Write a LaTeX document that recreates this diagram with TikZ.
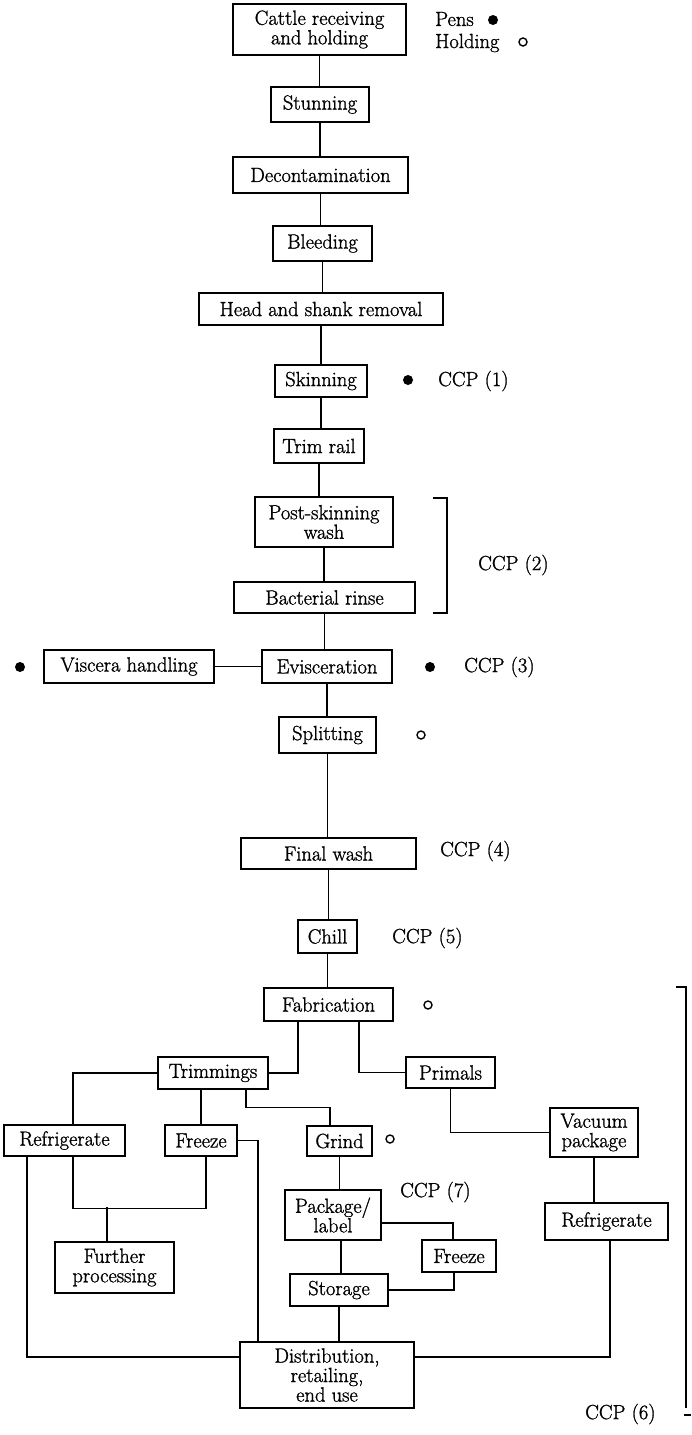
\documentclass[tikz,border=0pt]{standalone}
\usepackage{fontspec}
\newfontfamily\heavyrm{Latin Modern Roman}[FakeBold=1.2]
\newcommand\mainfs{\heavyrm\fontsize{20.5}{19.5}\selectfont}
\tikzset{
  box/.style={draw, line width=1.3pt, inner sep=0pt, align=center, font=\mainfs},
  lbl/.style={inner sep=0pt, anchor=west, font=\mainfs},
  conn/.style={line width=1.2pt},
  dotf/.style={circle, fill=black, draw=none, minimum size=10pt, inner sep=0pt},
  doto/.style={circle, draw, line width=1.4pt, minimum size=8pt, inner sep=0pt},
}
\begin{document}
\begin{tikzpicture}[x=1pt,y=-1pt]
\useasboundingbox[fill=white] (0,0) rectangle (691,1435);
% main chain
\node[box, minimum width=173pt, minimum height=51pt] (cattle) at (319.5,29.5) {Cattle receiving\\and holding};
\node[box, minimum width=98pt, minimum height=35pt] (stun) at (320,104.5) {Stunning};
\node[box, minimum width=175pt, minimum height=36pt] (decon) at (320.5,175) {Decontamination};
\node[box, minimum width=99pt, minimum height=35pt] (bleed) at (322.5,243.5) {Bleeding};
\node[box, minimum width=244pt, minimum height=32pt] (head) at (321,309) {Head and shank removal};
\node[box, minimum width=92pt, minimum height=32pt] (skin) at (321,381) {Skinning};
\node[box, minimum width=90pt, minimum height=34pt] (trim) at (319,446) {Trim rail};
\node[box, minimum width=138pt, minimum height=50pt] (post) at (324,522) {Post-skinning\\wash};
\node[box, minimum width=181pt, minimum height=31pt] (rinse) at (324.5,597.5) {Bacterial rinse};
\node[box, minimum width=170pt, minimum height=33pt] (viscera) at (129,666.5) {Viscera handling};
\node[box, minimum width=130pt, minimum height=33pt] (evis) at (327,666.5) {Evisceration};
\node[box, minimum width=97pt, minimum height=36pt] (split) at (327.5,735) {Splitting};
\node[box, minimum width=175pt, minimum height=31pt] (final) at (328.5,853.5) {Final wash};
\node[box, minimum width=59pt, minimum height=33pt] (chill) at (327.5,936.5) {Chill};
\node[box, minimum width=129pt, minimum height=33pt] (fab) at (328.5,1004.5) {Fabrication};
% lower part
\node[box, minimum width=110pt, minimum height=32pt] (trimm) at (213,1073) {Trimmings};
\node[box, minimum width=89pt, minimum height=31pt] (primals) at (450.5,1072.5) {Primals};
\node[box, minimum width=121pt, minimum height=31pt] (refL) at (64.5,1140.5) {Refrigerate};
\node[box, minimum width=72pt, minimum height=31pt] (freezeL) at (201,1140.5) {Freeze};
\node[box, minimum width=65pt, minimum height=30pt] (grind) at (339.5,1141) {Grind};
\node[box, minimum width=88pt, minimum height=49pt] (vacuum) at (594,1132.5) {Vacuum\\package};
\node[box, minimum width=96pt, minimum height=50pt] (pkg) at (333,1215) {Package/\\label};
\node[box, minimum width=74pt, minimum height=32pt] (freezeR) at (459,1256) {Freeze};
\node[box, minimum width=123pt, minimum height=37pt] (refR) at (606.5,1221.5) {Refrigerate};
\node[box, minimum width=119pt, minimum height=51pt] (further) at (114.5,1267.5) {Further\\processing};
\node[box, minimum width=98pt, minimum height=32pt] (storage) at (339,1290) {Storage};
\node[box, minimum width=174pt, minimum height=66pt] (dist) at (327,1375) {Distribution,\\retailing,\\end use};
% connectors main chain
\foreach \a/\b in {cattle/stun,stun/decon,decon/bleed,bleed/head,head/skin,skin/trim,trim/post,post/rinse,rinse/evis,evis/split,split/final,final/chill,chill/fab}
  \draw[conn] (\a.south) -- (\a.south |- \b.north);
\draw[conn] (viscera.east) -- (evis.west);
% fabrication branches
\draw[conn] ([xshift=-30.5pt]fab.south) |- (trimm.east);
\draw[conn] ([xshift=30.5pt]fab.south) |- (primals.west);
\draw[conn] (trimm.west) -| ([xshift=8.5pt]refL.north);
\draw[conn] (trimm.south -| freezeL.north) -- (freezeL.north);
\draw[conn] ([xshift=33pt]trimm.south) -- ++(0,18) -| ([xshift=-9.5pt]grind.north);
\draw[conn] (primals.south) |- (vacuum.west);
\draw[conn] (vacuum.south) -- (vacuum.south |- refR.north);
\draw[conn] ([xshift=3.5pt]refR.south) |- ([yshift=18pt]dist.east);
\draw[conn] ([xshift=-37.5pt]refL.south) |- ([yshift=18pt]dist.west);
\draw[conn] ([xshift=8.5pt]refL.south) -- ++(0,52) -| ([xshift=5pt]freezeL.south);
\draw[conn] ([xshift=-7.5pt]further.north) -- ++(0,-34);
\draw[conn] (freezeL.east) -| ([xshift=-69pt]dist.north);
\draw[conn] (grind.south) -- (grind.south |- pkg.north);
\draw[conn] ([yshift=-8pt]pkg.east) -| ([xshift=-6pt]freezeR.north);
\draw[conn] ([xshift=8pt]pkg.south) -- ([xshift=8pt]pkg.south |- storage.north);
\draw[conn] (storage.east) -| ([xshift=-5pt]freezeR.south);
\draw[conn] (storage.south) -- (storage.south |- dist.north);
% annotations
\node[lbl] (pens) at (435,19) {Pens};
\node[dotf] (pensdot) at (493,20) {};
\node[lbl] (hold) at (435,43) {Holding};
\node[doto] (holddot) at (523,42) {};
\node[dotf] (d1) at (408,380) {};
\node[lbl] (ccp1) at (438,381) {CCP (1)};
\draw[conn] (433,498) -- (447,498) -- (447,613) -- (433,613);
\node[lbl] (ccp2) at (478,565) {CCP (2)};
\node[dotf] (d2) at (20,667) {};
\node[dotf] (d3) at (430,667) {};
\node[lbl] (ccp3) at (464,667) {CCP (3)};
\node[doto] (o1) at (421,735) {};
\node[lbl] (ccp4) at (440,851) {CCP (4)};
\node[lbl] (ccp5) at (392,938) {CCP (5)};
\node[doto] (o2) at (428,1005) {};
\node[doto] (o3) at (390,1139) {};
\node[lbl] (ccp7) at (400,1192) {CCP (7)};
\draw[conn] (676,987) -- (686,987) -- (686,1408);
\node[lbl] (ccp6) at (585,1414) {CCP (6)};
\draw[conn] (684,1415) -- (691,1415);
\end{tikzpicture}
\end{document}
